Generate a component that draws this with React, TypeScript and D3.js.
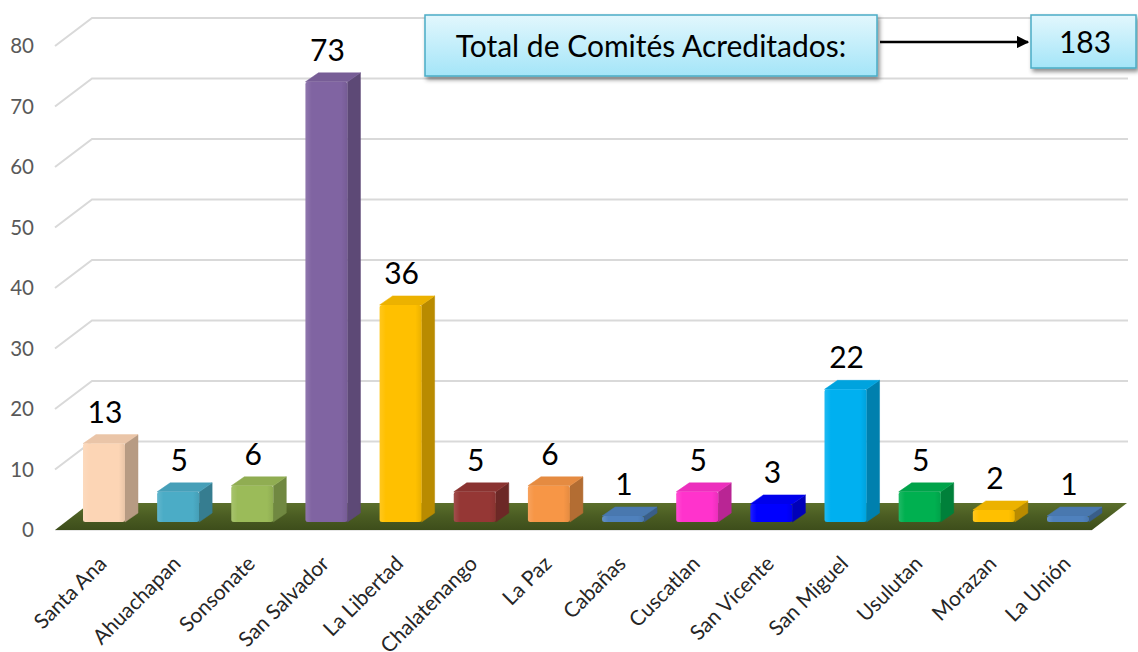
import React from "react";
import * as d3 from "d3";

const categories = ["Santa Ana","Ahuachapan","Sonsonate","San Salvador","La Libertad","Chalatenango","La Paz","Cabañas","Cuscatlan","San Vicente","San Miguel","Usulutan","Morazan","La Unión"];
const values = [13,5,6,73,36,5,6,1,5,3,22,5,2,1];
const barColors = ["#fcd5b5","#4bacc6","#9bbb59","#8064a2","#ffc000","#953735","#f79646","#4f81bd","#ff33cc","#0000ff","#00b0f0","#00b050","#ffc000","#4f81bd"];
const yTicks = [0,10,20,30,40,50,60,70,80];
const totalLabel = "Total de Comités Acreditados:";
const totalValue = 183;

const W = 1138, H = 652;
const FONT = "Lato, 'Open Sans', sans-serif";

export default function App() {
  // front plane of the wall / floor
  const y = d3.scaleLinear().domain([0, 80]).range([530, 46]);
  // bar front plane (slightly deeper)
  const yBar = d3.scaleLinear().domain([0, 80]).range([522, 522 - 80 * 6.03]);
  const x = d3.scalePoint<string>().domain(categories).range([104, 1068]);
  const depthX = 37, depthY = 28; // wall depth offsets
  const wallLeft = 55, wallRight = 1128;
  const barW = 42, bdx = 13, bdy = 9;

  return (
    <svg width={W} height={H} style={{ position: "absolute", left: 0, top: 0, background: "#fff" }} fontFamily={FONT}>
      <defs>
        <linearGradient id="floorGrad" x1="0" y1="0" x2="0" y2="1">
          <stop offset="0" stopColor="#5b6f2c" />
          <stop offset="0.5" stopColor="#4a5c22" />
          <stop offset="1" stopColor="#3d4d1b" />
        </linearGradient>
        <linearGradient id="boxGrad" x1="0" y1="0" x2="0" y2="1">
          <stop offset="0" stopColor="#e2f7fd" />
          <stop offset="1" stopColor="#a4e5f8" />
        </linearGradient>
        <linearGradient id="frontShade" x1="0" y1="0" x2="1" y2="0">
          <stop offset="0" stopColor="#fff" stopOpacity="0.12" />
          <stop offset="0.15" stopColor="#fff" stopOpacity="0" />
          <stop offset="0.85" stopColor="#000" stopOpacity="0" />
          <stop offset="1" stopColor="#000" stopOpacity="0.08" />
        </linearGradient>
        <filter id="shadow" x="-10%" y="-20%" width="130%" height="160%">
          <feDropShadow dx="2" dy="3" stdDeviation="2" floodColor="#000" floodOpacity="0.45" />
        </filter>
        <marker id="arrowHead" viewBox="0 0 10 10" refX="9" refY="5" markerWidth="5" markerHeight="5" orient="auto">
          <path d="M0,0 L10,5 L0,10 z" fill="#000" />
        </marker>
      </defs>

      {/* gridlines */}
      {yTicks.filter(t => t > 0).map(t => (
        <polyline key={t}
          points={`${wallLeft},${y(t)} ${wallLeft + depthX},${y(t) - depthY} ${wallRight},${y(t) - depthY}`}
          fill="none" stroke="#d9d9d9" strokeWidth={2} />
      ))}

      {/* y axis labels */}
      {yTicks.map(t => (
        <text key={t} x={34} y={y(t)} dy="0.35em" textAnchor="end" fontSize={20.5} fill="#595959">{t}</text>
      ))}

      {/* floor */}
      <polygon
        points={`${wallLeft},${y(0)} ${1092},${y(0)} ${wallRight - 1},${y(0) - 27} ${wallLeft + depthX - 2},${y(0) - 27}`}
        fill="url(#floorGrad)" />
      <line x1={wallLeft} x2={1092} y1={y(0) + 0.5} y2={y(0) + 0.5} stroke="#e6e6e6" strokeWidth={1} />

      {/* bars */}
      {categories.map((c, i) => {
        const v = values[i];
        const cx = x(c)!;
        const x0 = cx - barW / 2, x1 = cx + barW / 2;
        const yt = yBar(v), yb = yBar(0);
        const base = d3.color(barColors[i])!;
        const side = base.darker(0.9).formatHex();
        const top = d3.interpolateRgb(barColors[i], base.darker(0.5).formatHex())(0.45);
        return (
          <g key={c}>
            <polygon points={`${x1},${yb} ${x1 + bdx},${yb - bdy} ${x1 + bdx},${yt - bdy} ${x1},${yt}`} fill={side} stroke={side} strokeWidth={0.5} strokeLinejoin="round" />
            <polygon points={`${x0},${yt} ${x0 + bdx},${yt - bdy} ${x1 + bdx},${yt - bdy} ${x1},${yt}`} fill={top} stroke={top} strokeWidth={0.5} strokeLinejoin="round" />
            <rect x={x0} y={yt} width={barW} height={yb - yt} rx={2.5} fill={barColors[i]} />
            <rect x={x0} y={yt} width={barW} height={yb - yt} rx={2.5} fill="url(#frontShade)" />
            <text x={cx + 1} y={yt - bdy - 12} textAnchor="middle" fontSize={30} fill="#000">{v}</text>
          </g>
        );
      })}

      {/* category labels */}
      {categories.map(c => {
        const cx = x(c)!;
        return (
          <text key={c} transform={`translate(${cx - 2},${559}) rotate(-45)`} textAnchor="end" dominantBaseline="central" fontSize={21} fill="#262626">{c}</text>
        );
      })}

      {/* total annotation */}
      <rect x={425} y={15} width={452} height={61} fill="url(#boxGrad)" stroke="#4bacc6" strokeWidth={1.5} filter="url(#shadow)" />
      <text x={651} y={46} dy="0.35em" textAnchor="middle" fontSize={30} fill="#000">{totalLabel}</text>
      <line x1={880} x2={1028} y1={42} y2={42} stroke="#000" strokeWidth={2.5} markerEnd="url(#arrowHead)" />
      <rect x={1031} y={15} width={105} height={53} fill="url(#boxGrad)" stroke="#4bacc6" strokeWidth={1.5} filter="url(#shadow)" />
      <text x={1085} y={42} dy="0.35em" textAnchor="middle" fontSize={30} fill="#000">{totalValue}</text>
    </svg>
  );
}
